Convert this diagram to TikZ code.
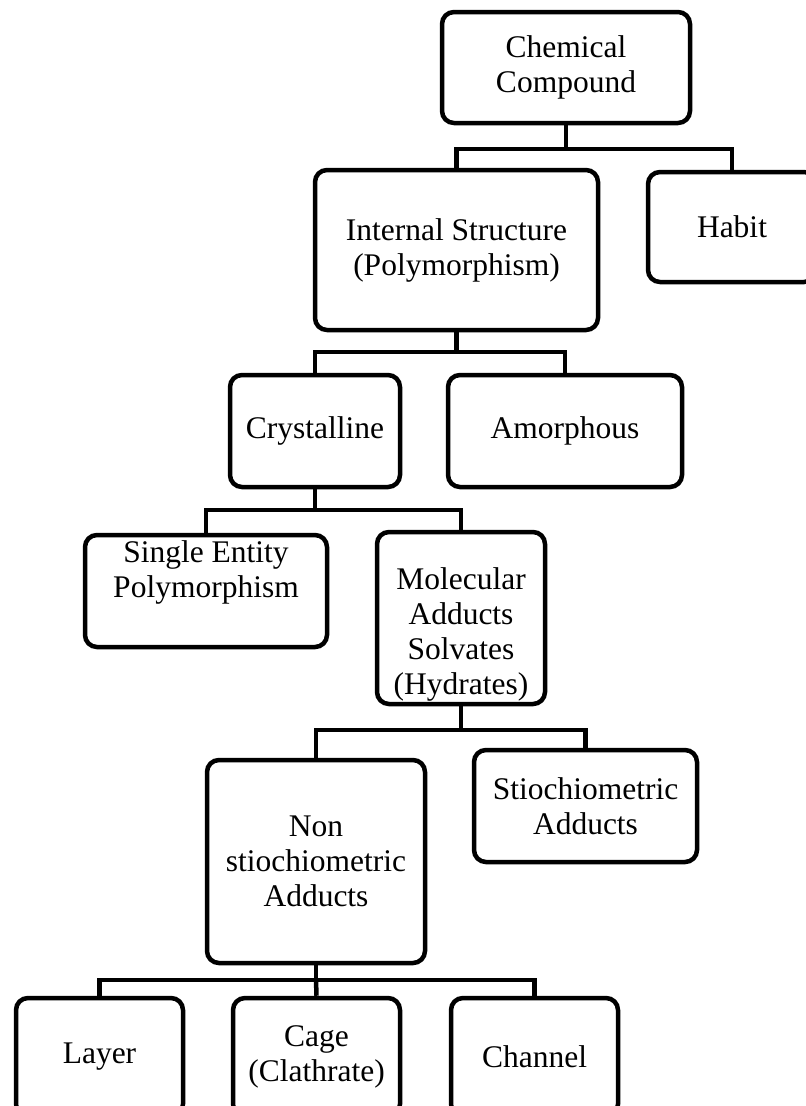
\documentclass[tikz,border=0pt]{standalone}
\usepackage{fontspec}
\setmainfont{Liberation Serif}
\usetikzlibrary{positioning}
\newcommand{\movetext}[2]{\raisebox{#1}[\height][\depth]{\begin{tabular}{@{}c@{}}#2\end{tabular}}}

\begin{document}
\begin{tikzpicture}[x=1pt,y=-1pt,on grid,
        box/.style={draw,line width=4.5pt,rounded corners=12pt,align=center,inner sep=0pt},
        wire/.style={line width=4.5pt},
        font=\fontsize{31.5}{35}\selectfont]
    \useasboundingbox (0,0) rectangle (806,1106);

    \node[box,minimum width=248,minimum height=111] (compound) at (566,67.5) {Chemical\\Compound};
    \node[box,minimum width=283,minimum height=160] (internal) at (456.5,250) {Internal Structure\\(Polymorphism)};
    \node[box,minimum width=168,minimum height=110] (habit)    at (732,227) {Habit};

    \node[box,minimum width=170,minimum height=112] (cryst)  at (315,431) {Crystalline};
    \node[box,minimum width=234,minimum height=112] (amorph) [right=250 of cryst] {Amorphous};

    \node[box,minimum width=242,minimum height=112] (single) at (206,591) {\movetext{18pt}{Single Entity\\Polymorphism}};
    \node[box,minimum width=168,minimum height=172] (molec)  at (461,618) {\movetext{-17pt}{Molecular\\Adducts\\Solvates\\(Hydrates)}};

    \node[box,minimum width=218,minimum height=203] (nonst)  at (316,861.5) {Non\\stiochiometric\\Adducts};
    \node[box,minimum width=223,minimum height=112] (stoich) at (585.5,806) {Stiochiometric\\Adducts};

    \node[box,minimum width=167,minimum height=118] (layer)   at (99.5,1057) {Layer};
    \node[box,minimum width=167,minimum height=118] (cage)    [right=217 of layer] {Cage\\(Clathrate)};
    \node[box,minimum width=167,minimum height=118] (channel) [right=218 of cage] {Channel};

    \coordinate (b_0) at (compound.south |- 0,149);
    \coordinate (b_1) at (internal.south |- 0,352);
    \coordinate (b_2) at (cryst.south |- 0,510);
    \coordinate (b_3) at (molec.south |- 0,730);
    \coordinate (b_4) at (nonst.south |- 0,980);

    \draw[wire] (compound.south) -- (b_0);
    \draw[wire] (internal.north) |- (b_0) -| (habit.north);
    \draw[wire] (internal.south) -- (b_1);
    \draw[wire] (cryst.north) |- (b_1) -| (amorph.north);
    \draw[wire] (cryst.south) -- (b_2);
    \draw[wire] (single.north) |- (b_2) -| (molec.north);
    \draw[wire] (molec.south) -- (b_3);
    \draw[wire] (nonst.north) |- (b_3) -| (stoich.north);
    \draw[wire] (nonst.south) -- (b_4);
    \draw[wire] (layer.north) |- (b_4) -| (channel.north);
    \draw[wire] (cage.north) -- (b_4);
\end{tikzpicture}
\end{document}
